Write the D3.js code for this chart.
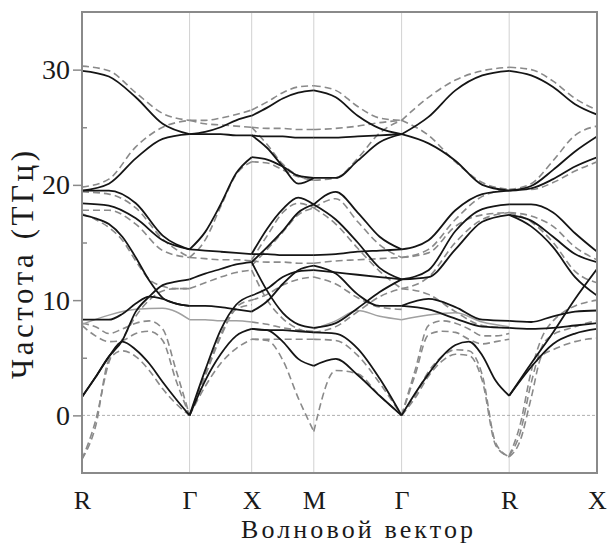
<!DOCTYPE html>
<html>
<head>
<meta charset="utf-8">
<script src="https://cdn.jsdelivr.net/npm/d3@7"></script>
<style>
  body { margin: 0; background: #fff; }
  svg text { font-family: "Liberation Serif", "Times New Roman", "DejaVu Serif", serif; fill: #1a1a1a; }
</style>
</head>
<body>
<svg width="613" height="544"></svg>
<script>
// high-symmetry points along the k-path (path length in units of 2pi/a)
var kLabels = ["R", "Γ", "X", "M", "Γ", "R", "X"];
var kPos = [0, 0.866, 1.366, 1.866, 2.573, 3.439, 4.146];
var yTicks = [0, 10, 20, 30];
var yMinor = [5, 15, 25];
var serif = "'Liberation Serif', 'Times New Roman', 'DejaVu Serif', serif";

// each row: frequencies (THz) at evenly spaced points along one segment
var solidRG = [
  [29.9, 29.4, 27.6, 25.3, 24.4],
  [19.5, 20.1, 22.3, 24.0, 24.4],
  [19.5, 19.5, 18.4, 15.6, 14.4],
  [18.4, 18.2, 17.1, 15.2, 14.4],
  [17.4, 17.1, 16.6, 15.5, 13.7, 11.7, 10.2, 9.7, 9.5],
  [8.3, 8.3, 8.3, 8.8, 9.7, 10.3, 10.1, 9.7, 9.5],
  [1.6, 3.3, 5.1, 6.5, 9.0, 10.3, 11.3, 11.6, 11.8],
  [1.6, 3.3, 5.1, 6.4, 5.7, 4.5, 2.9, 1.4, 0]
];
var dashRG = [
  [30.3, 29.9, 28.0, 26.2, 25.6],
  [19.8, 20.5, 23.3, 25.0, 25.6],
  [19.4, 19.2, 18.0, 15.3, 13.7],
  [17.8, 17.8, 16.6, 14.3, 13.7],
  [17.5, 17.0, 16.3, 15.2, 13.4, 11.8, 11.2, 11.0, 11.0],
  [8.0, 7.7, 7.1, 7.5, 8.0, 8.2, 7.5, 3.9, 0],
  [7.8, 6.9, 6.4, 6.5, 7.1, 7.3, 6.5, 3.0, 0],
  [-3.8, -1.0, 4.8, 5.6, 5.1, 3.9, 2.3, 1.0, 0],
  [-3.8, -0.5, 4.6, 6.6, 8.6, 10.0, 10.8, 11.0, 11.0]
];
var grayRG = [[7.9, 8.7, 9.2, 9.3, 8.3]];

var solidGX = [
  [24.4, 24.6, 25.0, 25.6, 26.0],
  [24.4, 24.4, 24.4, 24.3, 24.3],
  [14.4, 15.9, 18.3, 21.0, 22.4],
  [14.4, 14.3, 14.2, 14.1, 14.0],
  [11.8, 12.3, 12.7, 13.1, 13.3],
  [9.5, 9.5, 9.4, 9.2, 9.0],
  [0, 3.9, 7.4, 9.6, 10.4],
  [0, 3.0, 5.3, 6.9, 7.5]
];
var dashGX = [
  [25.6, 25.6, 25.8, 26.1, 26.5],
  [25.6, 25.3, 25.2, 25.1, 25.0],
  [13.7, 15.2, 18.1, 20.9, 22.0],
  [13.7, 13.6, 13.5, 13.5, 13.4],
  [11.0, 11.5, 12.0, 12.4, 12.6],
  [0, 3.6, 7.0, 9.4, 10.0],
  [0, 3.4, 6.8, 9.2, 9.6],
  [0, 2.5, 4.5, 5.8, 6.6]
];
var grayGX = [[8.3, 8.3, 8.2, 8.2, 8.1]];

var solidXM = [
  [26.0, 26.7, 27.5, 28.0, 28.2],
  [24.3, 24.2, 24.2, 24.1, 24.1],
  [24.3, 23.2, 21.6, 20.1, 20.6],
  [22.4, 22.2, 21.6, 20.8, 20.6],
  [14.0, 16.2, 17.9, 18.9, 18.3],
  [13.3, 14.6, 16.0, 17.6, 18.3],
  [14.0, 14.0, 13.9, 13.9, 13.9],
  [9.0, 9.9, 11.4, 12.6, 13.0],
  [10.4, 11.0, 12.0, 12.5, 12.6],
  [13.3, 10.8, 8.9, 7.9, 7.6],
  [7.5, 7.4, 7.4, 7.3, 7.2],
  [7.5, 7.4, 6.4, 4.9, 4.3]
];
var dashXM = [
  [26.5, 27.2, 28.0, 28.5, 28.6],
  [25.0, 24.9, 24.9, 24.8, 24.8],
  [25.0, 23.5, 21.8, 20.8, 20.4],
  [22.0, 21.9, 21.3, 20.7, 20.4],
  [13.5, 15.6, 17.6, 18.4, 18.0],
  [13.0, 14.4, 15.9, 17.4, 18.0],
  [13.4, 13.3, 13.3, 13.2, 13.2],
  [10.0, 10.5, 11.3, 11.8, 12.0],
  [12.6, 10.0, 8.4, 7.5, 7.2],
  [8.1, 7.9, 7.6, 7.4, 7.3],
  [6.6, 6.6, 6.6, 6.6, 6.6],
  [6.6, 6.5, 4.8, 1.5, -1.4]
];
var grayXM = [];

var solidMG = [
  [28.2, 27.6, 26.0, 24.9, 24.4],
  [24.1, 24.1, 24.2, 24.3, 24.4],
  [20.6, 20.6, 22.1, 23.7, 24.4],
  [18.3, 19.4, 17.6, 15.5, 14.4],
  [18.3, 17.0, 15.0, 12.8, 11.8],
  [13.9, 14.0, 14.2, 14.3, 14.4],
  [13.0, 12.3, 10.5, 9.5, 9.5],
  [12.6, 12.4, 12.2, 12.0, 11.8],
  [7.6, 8.0, 9.3, 10.7, 11.8],
  [7.2, 7.1, 5.8, 3.2, 0],
  [4.3, 4.9, 3.5, 1.7, 0]
];
var dashMG = [
  [28.6, 28.2, 26.8, 25.8, 25.6],
  [24.8, 24.9, 25.1, 25.4, 25.6],
  [20.4, 20.6, 22.3, 24.5, 25.6],
  [18.0, 18.8, 16.8, 14.8, 13.7],
  [18.0, 16.6, 14.5, 12.5, 11.0],
  [13.2, 13.4, 13.5, 13.6, 13.7],
  [12.0, 11.4, 10.2, 9.4, 9.2],
  [7.2, 7.7, 9.0, 10.3, 11.0],
  [6.6, 6.5, 5.2, 2.8, 0],
  [-1.4, 3.9, 3.6, 1.7, 0]
];
var grayMG = [[7.5, 8.2, 9.1, 8.6, 8.3]];

var solidGR = [
  [24.4, 25.9, 28.2, 29.5, 29.9],
  [24.4, 23.6, 22.1, 20.0, 19.5],
  [14.4, 15.2, 17.8, 19.2, 19.5],
  [11.8, 12.6, 16.0, 17.9, 18.3],
  [11.8, 12.0, 14.4, 16.8, 17.4],
  [9.5, 10.1, 9.4, 8.3, 8.2],
  [9.5, 9.2, 8.4, 7.7, 7.6],
  [0, 1.9, 3.6, 5.1, 6.1, 6.4, 5.2, 3.0, 1.7]
];
var dashGR = [
  [25.6, 27.6, 29.1, 29.9, 30.2],
  [25.6, 24.3, 22.0, 20.2, 19.6],
  [13.7, 14.4, 17.0, 19.0, 19.6],
  [13.7, 14.1, 16.4, 17.4, 17.6],
  [11.0, 12.0, 15.0, 17.0, 17.6],
  [11.0, 10.5, 9.0, 7.8, 7.6],
  [0, 3.9, 7.8, 8.2, 8.0, 7.5, 6.9, 6.9, 7.1],
  [0, 3.5, 7.0, 7.3, 7.2, 6.6, 6.2, 6.4, 6.6],
  [0, 1.7, 3.8, 5.1, 5.7, 5.6, 3.5, -2.4, -3.6],
  [0, 1.5, 3.4, 4.7, 5.3, 5.2, 3.0, -2.6, -3.6]
];
var grayGR = [[8.3, 8.7, 8.9, 8.1, 7.7]];

var solidRX = [
  [29.9, 29.5, 28.5, 27.0, 26.1],
  [19.5, 19.9, 21.3, 22.9, 24.2],
  [19.5, 19.7, 20.5, 21.6, 22.4],
  [18.3, 18.3, 17.6, 15.8, 14.2],
  [17.4, 16.9, 15.5, 14.0, 13.3],
  [17.4, 16.4, 14.6, 12.0, 10.4],
  [1.7, 4.5, 7.2, 10.1, 12.7],
  [1.7, 4.2, 6.2, 7.1, 7.5],
  [8.2, 8.1, 8.6, 9.0, 9.1],
  [7.6, 7.5, 7.6, 7.8, 8.0]
];
var dashRX = [
  [30.2, 30.0, 29.0, 27.5, 26.5],
  [19.6, 20.1, 22.1, 24.3, 25.1],
  [19.6, 19.6, 20.2, 21.2, 22.0],
  [17.6, 17.3, 16.4, 14.6, 13.5],
  [17.6, 16.8, 15.0, 12.5, 11.5],
  [-3.6, -2.2, 1.5, 5.2, 5.7, 6.1, 6.4, 6.6, 6.7],
  [-3.5, -1.5, 2.8, 6.0, 7.0, 7.4, 7.7, 8.0, 8.2],
  [-3.5, -0.8, 3.8, 6.8, 8.2, 9.0, 9.5, 9.8, 10.0]
];
var grayRX = [];

var solidSegs = [solidRG, solidGX, solidXM, solidMG, solidGR, solidRX];
var dashSegs = [dashRG, dashGX, dashXM, dashMG, dashGR, dashRX];
var graySegs = [grayRG, grayGX, grayXM, grayMG, grayGR, grayRX];

var svg = d3.select("svg"),
    margin = {top: 12, right: 16, bottom: 71, left: 82},
    width = +svg.attr("width") - margin.left - margin.right,
    height = +svg.attr("height") - margin.top - margin.bottom;

var x = d3.scaleLinear().domain([0, kPos[kPos.length - 1]]).range([0, width]),
    y = d3.scaleLinear().domain([-5, 35]).range([height, 0]);

var g = svg.append("g")
    .attr("transform", "translate(" + margin.left + "," + margin.top + ")");

g.append("clipPath").attr("id", "clip")
  .append("rect").attr("width", width).attr("height", height);

// vertical lines at symmetry points
g.selectAll(".kline")
  .data(kPos.slice(1, -1))
  .enter().append("line")
    .attr("x1", function(d) { return x(d); })
    .attr("x2", function(d) { return x(d); })
    .attr("y1", 0).attr("y2", height)
    .attr("stroke", "#d2d2d2").attr("stroke-width", 1);

// zero line
g.append("line")
  .attr("x1", 0).attr("x2", width)
  .attr("y1", y(0)).attr("y2", y(0))
  .attr("stroke", "#999").attr("stroke-width", 0.8)
  .attr("stroke-dasharray", "3,2");

var line = d3.line()
  .x(function(d) { return x(d[0]); })
  .y(function(d) { return y(d[1]); })
  .curve(d3.curveMonotoneX);

function toPoints(seg, band) {
  var k0 = kPos[seg], k1 = kPos[seg + 1];
  return band.map(function(v, j) { return [k0 + (k1 - k0) * j / (band.length - 1), v]; });
}

var plot = g.append("g").attr("clip-path", "url(#clip)");

function drawSet(segs, cls, stroke, w, dash) {
  segs.forEach(function(bands, i) {
    plot.selectAll("." + cls + i)
      .data(bands)
      .enter().append("path")
        .attr("class", cls + i)
        .attr("d", function(b) { return line(toPoints(i, b)); })
        .attr("fill", "none")
        .attr("stroke", stroke)
        .attr("stroke-width", w)
        .attr("stroke-dasharray", dash);
  });
}

drawSet(dashSegs, "dash", "#8a8a8a", 1.6, "7,4");
drawSet(graySegs, "gray", "#a0a0a0", 1.5, null);
drawSet(solidSegs, "solid", "#151515", 1.8, null);

// frame
g.append("rect")
  .attr("width", width).attr("height", height)
  .attr("fill", "none").attr("stroke", "#8a8a8a").attr("stroke-width", 2);

// y axis
var yAxis = g.append("g")
  .call(d3.axisLeft(y).tickValues(yTicks).tickSize(9).tickPadding(3).tickFormat(d3.format("d")));
yAxis.attr("font-family", serif);
yAxis.select(".domain").remove();
yAxis.selectAll("line").attr("stroke", "#8a8a8a").attr("stroke-width", 1.5);
yAxis.selectAll("text").attr("font-size", 28).attr("font-family", serif).attr("fill", "#1a1a1a");

var yAxisMinor = g.append("g")
  .call(d3.axisLeft(y).tickValues(yMinor).tickSize(-5).tickFormat(""));
yAxisMinor.select(".domain").remove();
yAxisMinor.selectAll("line").attr("stroke", "#8a8a8a").attr("stroke-width", 1.5);

// x axis labels
var xAxis = g.append("g")
  .attr("transform", "translate(0," + height + ")")
  .call(d3.axisBottom(x).tickValues(kPos).tickSize(0).tickPadding(18)
    .tickFormat(function(d, i) { return kLabels[i]; }));
xAxis.attr("font-family", serif);
xAxis.select(".domain").remove();
xAxis.selectAll("text").attr("font-size", 26).attr("font-family", serif).attr("fill", "#1a1a1a");

// axis titles
svg.append("text")
  .attr("x", 357).attr("y", 538)
  .attr("text-anchor", "middle")
  .attr("font-family", serif)
  .attr("font-size", 26)
  .attr("textLength", 232)
  .attr("lengthAdjust", "spacing")
  .text("Волновой вектор");

svg.append("text")
  .attr("transform", "translate(33,265) rotate(-90)")
  .attr("text-anchor", "middle")
  .attr("font-family", serif)
  .attr("font-size", 31)
  .attr("textLength", 228)
  .attr("lengthAdjust", "spacing")
  .text("Частота (ТГц)");
</script>
</body>
</html>
